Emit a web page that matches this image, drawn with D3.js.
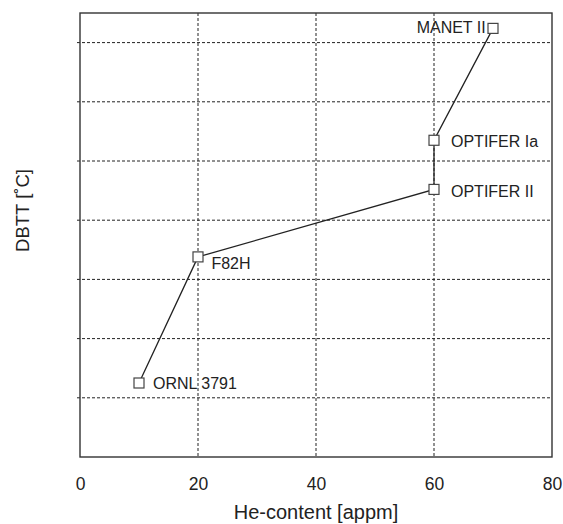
<!DOCTYPE html>
<html>
<head>
<meta charset="utf-8">
<script src="https://cdn.jsdelivr.net/npm/d3@7"></script>
<style>
  body { margin: 0; background: #fff; }
  text { font-family: "Liberation Sans", Arial, sans-serif; fill: #222; }
</style>
</head>
<body>
<div id="chart"></div>
<script>
// data (DBTT axis has no labelled values, so relative units)
const alloys = ["ORNL 3791", "F82H", "OPTIFER II", "OPTIFER Ia", "MANET II"];
const heContent = [10, 20, 60, 60, 70];
const dbtt = [1.25, 3.38, 4.52, 5.35, 7.24];
const xTicks = [0, 20, 40, 60, 80];
const yGrid = [1, 2, 3, 4, 5, 6, 7];

// label placement relative to each marker
const labelOffsets = [[14, 5.6], [13.4, 12.3], [17, 7.4], [17, 6.3], [-7.3, 5]];

const W = 563, H = 524;
const margin = { top: 13, right: 11, bottom: 67, left: 80 },
      width = W - margin.left - margin.right,
      height = H - margin.top - margin.bottom;

const svg = d3.select("#chart")
  .append("svg")
  .attr("width", W)
  .attr("height", H);

const g = svg.append("g")
  .attr("transform", `translate(${margin.left},${margin.top})`);

// scales
const x = d3.scaleLinear().domain([0, 80]).range([0, width]);
const y = d3.scaleLinear().domain([0, 7.5]).range([height, 0]);

// grid lines
g.append("g")
  .selectAll("line.vgrid")
  .data(xTicks.slice(1, -1))
  .join("line")
  .attr("x1", d => x(d)).attr("x2", d => x(d))
  .attr("y1", 0).attr("y2", height)
  .attr("stroke", "#222")
  .attr("stroke-width", 1)
  .attr("stroke-dasharray", "3,2");

g.append("g")
  .selectAll("line.hgrid")
  .data(yGrid)
  .join("line")
  .attr("x1", -3).attr("x2", width)
  .attr("y1", d => y(d)).attr("y2", d => y(d))
  .attr("stroke", "#222")
  .attr("stroke-width", 1)
  .attr("stroke-dasharray", "3,2");

// frame
g.append("rect")
  .attr("width", width)
  .attr("height", height)
  .attr("fill", "none")
  .attr("stroke", "#333")
  .attr("stroke-width", 1.4);

// x axis labels
const xAxis = g.append("g")
  .attr("transform", `translate(0,${height})`)
  .call(d3.axisBottom(x).tickValues(xTicks).tickSize(0).tickPadding(21));
xAxis.select(".domain").remove();
xAxis.selectAll("text")
  .style("font-size", "17.5px")
  .style("font-family", "'Liberation Sans', Arial, sans-serif")
  .attr("fill", "#222");

// axis titles
g.append("text")
  .attr("x", width / 2)
  .attr("y", height + 62)
  .attr("text-anchor", "middle")
  .style("font-size", "20px")
  .text("He-content [appm]");

g.append("text")
  .attr("transform", "rotate(-90)")
  .attr("x", -197.5)
  .attr("y", -51.5)
  .attr("text-anchor", "middle")
  .style("font-size", "18.5px")
  .text("DBTT [˚C]");

// line
const points = alloys.map((name, i) => ({ name, he: heContent[i], t: dbtt[i], off: labelOffsets[i] }));

const line = d3.line()
  .x(d => x(d.he))
  .y(d => y(d.t));

g.append("path")
  .datum(points)
  .attr("d", line)
  .attr("fill", "none")
  .attr("stroke", "#222")
  .attr("stroke-width", 1.3);

// markers
const s = 10;
g.selectAll(".marker")
  .data(points)
  .join("rect")
  .attr("class", "marker")
  .attr("x", d => x(d.he) - s / 2)
  .attr("y", d => y(d.t) - s / 2)
  .attr("width", s)
  .attr("height", s)
  .attr("fill", "#fff")
  .attr("stroke", "#444")
  .attr("stroke-width", 1.2);

// labels
g.selectAll(".label")
  .data(points)
  .join("text")
  .attr("class", "label")
  .attr("x", d => x(d.he) + d.off[0])
  .attr("y", d => y(d.t) + d.off[1])
  .attr("text-anchor", d => d.off[0] < 0 ? "end" : "start")
  .style("font-size", "16px")
  .text(d => d.name);
</script>
</body>
</html>
